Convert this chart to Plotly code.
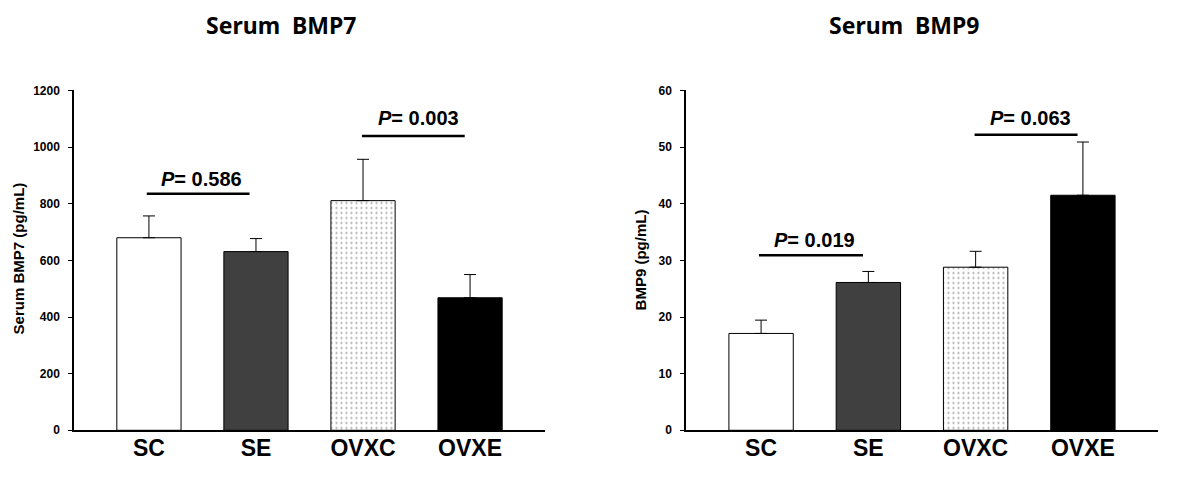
import plotly.graph_objects as go

categories = ["SC", "SE", "OVXC", "OVXE"]
bmp7_mean = [680, 631, 811, 468]
bmp7_err = [77, 46, 146, 82]
bmp9_mean = [17.1, 26.1, 28.8, 41.5]
bmp9_err = [2.35, 1.95, 2.8, 9.4]
bmp7_ticks = [0, 200, 400, 600, 800, 1000, 1200]
bmp9_ticks = [0, 10, 20, 30, 40, 50, 60]

# significance brackets: (x0, x1, y, label, label_x, label_y)
bmp7_sig = [(-0.02, 0.94, 835, "0.586", 0.49, 887),
            (1.99, 2.95, 1039, "0.003", 2.52, 1103)]
bmp9_sig = [(-0.02, 0.95, 30.9, "0.019", 0.50, 33.6),
            (1.99, 2.95, 52.2, "0.063", 2.51, 55.1)]

fills = ["#ffffff", "#404040", "#ffffff", "#000000"]
shapes_pat = ["", "", ".", ""]

# page is 1202x481; body has an 8px margin, so the figure is drawn inside it
W, H, OFF = 1186, 465, 8


def px_x(p):
    return (p - OFF) / W


def px_y(p):
    # calibrated vertical mapping from target picture pixel to paper fraction
    q = (p - 7.95) / 0.9676
    return (H - (q - OFF)) / H


fig = go.Figure()


def add_bars(xa, ya, means, errs):
    fig.add_trace(go.Bar(
        x=categories, y=means, width=0.6,
        xaxis=xa, yaxis=ya,
        marker=dict(color=fills, line=dict(color="black", width=1),
                    pattern=dict(shape=shapes_pat, fgcolor="black", bgcolor="white",
                                 size=5, solidity=0.15)),
        error_y=dict(type="data", symmetric=False, array=errs,
                     arrayminus=[0] * len(errs), color="black", thickness=1, width=6),
        showlegend=False, hoverinfo="skip",
    ))


add_bars("x", "y", bmp7_mean, bmp7_err)
add_bars("x2", "y2", bmp9_mean, bmp9_err)

ydom = [px_y(430), px_y(91)]
tickfont = dict(family="Liberation Sans", size=12, color="black", weight="bold")
catfont = dict(family="Liberation Sans", size=23, color="black", weight="bold")

common_x = dict(type="category", range=[-0.7, 3.7], showline=True, linecolor="black",
                linewidth=2, ticks="", tickfont=catfont, showgrid=False,
                zeroline=False, ticklabelstandoff=-4)
common_y = dict(showline=True, linecolor="black", linewidth=1.5, ticks="outside",
                ticklen=4, tickwidth=1, tickcolor="black", tickfont=tickfont,
                showgrid=False, zeroline=False, ticklabelstandoff=6)

fig.update_layout(
    width=W, height=H,
    margin=dict(l=0, r=0, t=0, b=0),
    paper_bgcolor="white", plot_bgcolor="white",
    xaxis=dict(domain=[px_x(74), px_x(545)], anchor="y", **common_x),
    xaxis2=dict(domain=[px_x(686), px_x(1158)], anchor="y2", **common_x),
    yaxis=dict(domain=ydom, anchor="x", range=[0, 1200], tickvals=bmp7_ticks, **common_y),
    yaxis2=dict(domain=ydom, anchor="x2", range=[0, 60], tickvals=bmp9_ticks, **common_y),
)

annots = []
shapes = []
for (xa, ya, sig) in [("x", "y", bmp7_sig), ("x2", "y2", bmp9_sig)]:
    for x0, x1, yv, lab, lx, ly in sig:
        shapes.append(dict(type="line", xref=xa, yref=ya, x0=x0, x1=x1, y0=yv, y1=yv,
                           line=dict(color="black", width=2.5)))
        annots.append(dict(xref=xa, yref=ya, x=lx, y=ly, text="<i>P</i>= " + lab,
                           showarrow=False, xanchor="center", yanchor="middle",
                           font=dict(family="Liberation Sans", size=20, color="black",
                                     weight="bold")))

titlefont = dict(family="Noto Sans", size=23, color="black", weight="bold")
annots.append(dict(xref="paper", yref="paper", x=px_x(281), y=px_y(26),
                   text="Serum  BMP7", showarrow=False, xanchor="center",
                   yanchor="middle", font=titlefont))
annots.append(dict(xref="paper", yref="paper", x=px_x(904), y=px_y(26),
                   text="Serum  BMP9", showarrow=False, xanchor="center",
                   yanchor="middle", font=titlefont))
ytfont = dict(family="Liberation Sans", size=15, color="black", weight="bold")
annots.append(dict(xref="paper", yref="paper", x=0.0, y=px_y(259),
                   text="Serum BMP7 (pg/mL)", textangle=-90, showarrow=False,
                   xanchor="left", yanchor="middle", font=ytfont))
annots.append(dict(xref="paper", yref="paper", x=px_x(640), y=px_y(260.5),
                   text="BMP9 (pg/mL)", textangle=-90, showarrow=False,
                   xanchor="center", yanchor="middle", font=ytfont))

fig.update_layout(annotations=annots, shapes=shapes)
fig.write_html("out.html")
